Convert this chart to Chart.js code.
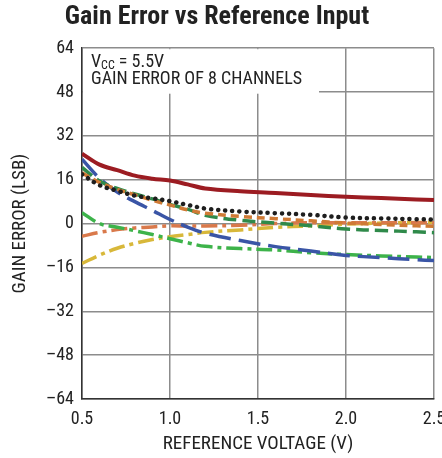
<!DOCTYPE html>
<html>
<head>
<meta charset="utf-8">
<script src="https://cdn.jsdelivr.net/npm/chart.js@4"></script>
<style>
  html, body { margin: 0; padding: 0; background: #fff; }
  #wrap { width: 442px; height: 458px; }
</style>
</head>
<body>
<div id="wrap"><canvas id="gainChart" width="442" height="458"></canvas></div>
<script>
const FONT = "'Roboto Condensed', 'Liberation Sans Narrow', sans-serif";

// reference voltage (V)
const voltage = [0.5, 0.6, 0.7, 0.8, 0.9, 1.0, 1.1, 1.2, 1.4, 1.6, 1.8, 2.0, 2.2, 2.4, 2.5];

// gain error of the 8 channels (LSB)
const chRed    = [25.5, 21.5, 19.5, 17.5, 16.4, 15.7, 14.3, 12.8, 11.8, 11.2, 10.4, 9.8, 9.3, 8.8, 8.6];
const chBlack  = [18, 14, 12, 10.2, 9.2, 8.2, 6.8, 5.5, 4.4, 3.8, 3.2, 2.2, 1.9, 1.6, 1.5];
const chOrange = [18.5, 15, 12.5, 10.5, 8.5, 6.8, 5, 3.8, 2.6, 1.8, 1.0, 0.2, -0.3, -0.8, -1.0];
const chGreen  = [20.5, 15.5, 12.8, 10.8, 9, 7, 5.3, 3, 1.2, 0.2, -0.8, -2, -2.5, -3, -3.3];
const chBlue   = [23.5, 16.5, 11.5, 8, 4.8, 1.5, -1.3, -3.5, -6.2, -8.4, -10, -11.6, -12.4, -13.2, -13.5];
const chLime   = [4, 0, -1.3, -2.6, -4, -5.5, -7, -8.3, -9.1, -9.6, -10.6, -11.3, -11.8, -12.2, -12.4];
const chSalmon = [-4.6, -3.2, -2.2, -1.6, -1.2, -0.8, -0.9, -0.9, -0.6, 0, 0.3, 0.3, 0.3, 0.3, 0.3];
const chYellow = [-14.5, -11.5, -9, -7.2, -5.8, -4.8, -4, -3.2, -2.3, -1.4, -0.8, -0.2, 0.2, 0.4, 0.5];

const xTicks = [0.5, 1, 1.5, 2, 2.5];
const yTicks = [-64, -48, -32, -16, 0, 16, 32, 48, 64];

function pts(arr) {
  return arr.map((v, i) => ({ x: voltage[i], y: v }));
}

function line(data, color, dash, width, cap) {
  return {
    data: pts(data),
    borderColor: color,
    borderWidth: width || 3.5,
    borderDash: dash,
    borderCapStyle: cap || "butt",
    pointRadius: 0,
    tension: 0.35,
    fill: false
  };
}

// white box with the conditions text, drawn over the grid
const notePlugin = {
  id: "note",
  beforeDatasetsDraw(chart) {
    const { ctx, chartArea } = chart;
    const top = chartArea.top;
    ctx.save();
    ctx.fillStyle = "#fff";
    ctx.fillRect(chartArea.left + 1, top + 1, 236, 44.5);
    ctx.fillStyle = "#222";
    ctx.textBaseline = "alphabetic";
    ctx.font = "18px " + FONT;
    const x0 = chartArea.left + 9;
    ctx.fillText("V", x0, top + 19);
    let w = ctx.measureText("V").width;
    ctx.font = "12px " + FONT;
    ctx.fillText("CC", x0 + w, top + 21);
    w += ctx.measureText("CC").width;
    ctx.font = "18px " + FONT;
    ctx.fillText(" = 5.5V", x0 + w, top + 19);
    ctx.fillText("GAIN ERROR OF 8 CHANNELS", x0, top + 35.5);
    ctx.restore();
  }
};

document.addEventListener("DOMContentLoaded", () => {
  const el = document.getElementById("gainChart");

  new Chart(el, {
    type: "line",
    data: {
      datasets: [
        line(chRed, "#9c1c22", [], 4),
        line(chBlack, "#1e1e1e", [0.1, 7], 4.5, "round"),
        line(chOrange, "#cf7a35", [8, 5]),
        line(chGreen, "#2f8a4a", [13, 6]),
        line(chBlue, "#3a55a6", [22, 8]),
        line(chLime, "#3db34a", [16, 5, 4, 5]),
        line(chSalmon, "#d9794b", [16, 5, 4, 5]),
        line(chYellow, "#d8b83a", [16, 5, 4, 5])
      ]
    },
    options: {
      responsive: false,
      animation: false,
      layout: { padding: { top: 0, right: 8, bottom: 0, left: 0 } },
      plugins: {
        legend: { display: false },
        tooltip: { enabled: false },
        title: {
          display: true,
          text: "Gain Error vs Reference Input",
          color: "#222",
          font: { family: FONT, size: 26, weight: "bold" },
          padding: { top: 2, bottom: 15 }
        }
      },
      scales: {
        x: {
          type: "linear",
          min: 0.5,
          max: 2.5,
          afterBuildTicks: (s) => { s.ticks = xTicks.map(v => ({ value: v })); },
          afterFit: (s) => { s.height = 59; s.paddingLeft = 0; s.paddingRight = 0; },
          grid: { color: "#8c8c8c", lineWidth: 1.5, drawTicks: false },
          border: { color: "#333", width: 1.5 },
          ticks: { color: "#222", padding: 10, maxRotation: 0, font: { family: FONT, size: 18 } },
          title: {
            display: true,
            text: "REFERENCE VOLTAGE (V)",
            color: "#222",
            font: { family: FONT, size: 19 },
            padding: { top: 0, bottom: 2 }
          }
        },
        y: {
          min: -64,
          max: 64,
          afterBuildTicks: (s) => { s.ticks = yTicks.map(v => ({ value: v })); },
          afterFit: (s) => { s.width = 82; s.paddingTop = 0; s.paddingBottom = 0; },
          grid: { color: "#8c8c8c", lineWidth: 1.5, drawTicks: false },
          border: { color: "#333", width: 1.5 },
          ticks: {
            color: "#222",
            padding: 8,
            font: { family: FONT, size: 18 },
            callback: (v) => (v < 0 ? "\u2013" + Math.abs(v) : String(v))
          },
          title: {
            display: true,
            text: "GAIN ERROR (LSB)",
            color: "#222",
            font: { family: FONT, size: 19 },
            padding: { top: 9, bottom: 0 }
          }
        }
      }
    },
    plugins: [notePlugin]
  });
});
</script>
</body>
</html>
